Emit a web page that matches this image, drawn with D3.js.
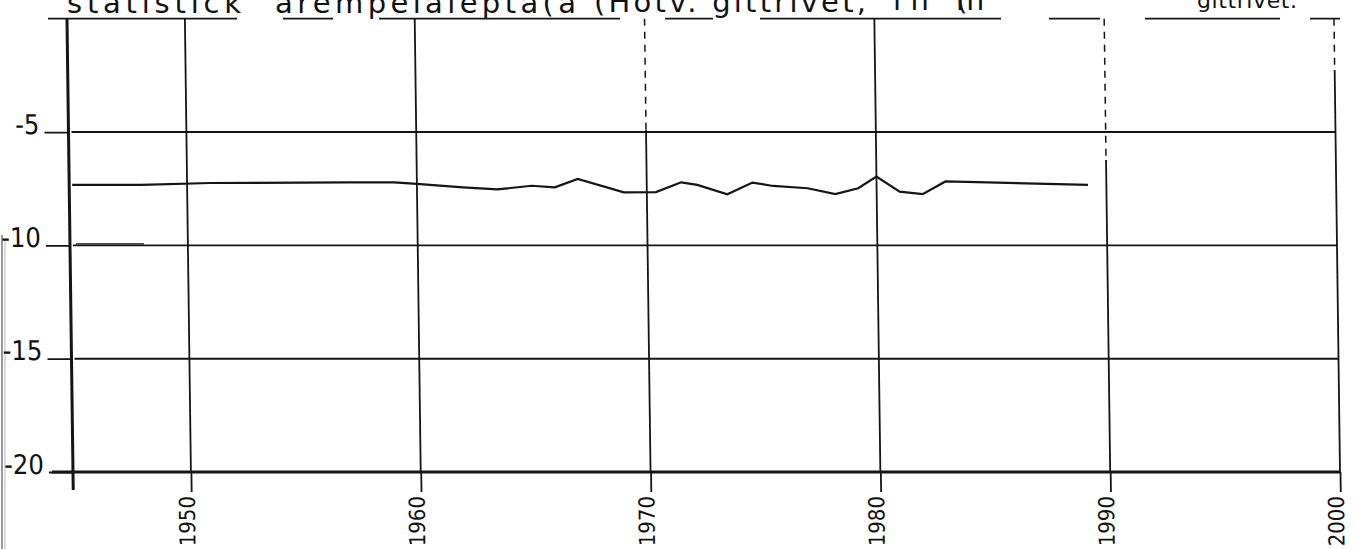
<!DOCTYPE html>
<html><head><meta charset="utf-8">
<script src="https://cdn.jsdelivr.net/npm/d3@7/dist/d3.min.js"></script>
<style>
html,body{margin:0;padding:0;background:#fff;}
svg{display:block;}
.num{font-family:"DejaVu Sans Condensed","Liberation Sans Narrow",sans-serif;fill:#111;}
.ttl{font-family:"DejaVu Sans","Open Sans",sans-serif;fill:#111;}
</style></head>
<body>
<svg id="c" width="1356" height="549"></svg>
<script>
// ---- data ----
const years  = [1945, 1948, 1951, 1957, 1959, 1960, 1962, 1963.5, 1965, 1966, 1967, 1969, 1970.4, 1971.5, 1972.2, 1973.5, 1974.6, 1975.5, 1977, 1978.2, 1979.2, 1980, 1981, 1982, 1983, 1989.2];
const values = [-7.33, -7.33, -7.25, -7.22, -7.22, -7.29, -7.44, -7.53, -7.37, -7.44, -7.07, -7.66, -7.65, -7.22, -7.33, -7.75, -7.23, -7.38, -7.48, -7.74, -7.48, -6.97, -7.63, -7.74, -7.18, -7.33];
const xTicks = [1950, 1960, 1970, 1980, 1990, 2000];
const yTicks = [-5, -10, -15, -20];
const titleParts = ["statistick", "ärempelalepta(a", "(Hotv. gittrivet,", "in", "(m", "gittrivet."];

// ---- layout ----
const svg = d3.select("#c");
const L = 76, R = 1340, T = 18.7, B = 472;
const x = d3.scaleLinear().domain([1945, 2000]).range([L, R]);
const y = d3.scaleLinear().domain([-20, 0]).range([B, T]);
const ink = "#151515";

// scan edge
svg.append("line").attr("x1",2).attr("x2",2).attr("y1",235).attr("y2",549)
  .attr("stroke","#777").attr("stroke-width",1.5);
svg.append("line").attr("x1",5).attr("x2",5).attr("y1",240).attr("y2",549)
  .attr("stroke","#bbb").attr("stroke-width",1);

// title (cut off at top)
const titleX = [67, 275, 594, 893, 956, 1197];
const titleW = [174, 301, 272, 36, 28, 100];
const titleY = [13, 13, 12, 10, 10, 8];
const titleF = [29, 29, 29, 29, 29, 22];
svg.append("g").selectAll("text").data(titleParts).join("text")
  .attr("class","ttl")
  .attr("x",(d,i)=>titleX[i]).attr("y",(d,i)=>titleY[i])
  .attr("font-size",(d,i)=>titleF[i])
  .attr("textLength",(d,i)=>titleW[i]).attr("lengthAdjust","spacing")
  .text(d=>d);

const g = svg.append("g").attr("transform",`translate(0,${B}) skewX(0.76) translate(0,${-B})`);

// top broken border / underline
const topSegs = [[48,237],[283,333],[379,620],[665,713],[760,1001],[1049,1100],[1145,1280],[1310,1340]];
g.append("g").selectAll("line").data(topSegs).join("line")
  .attr("x1",d=>d[0]+6).attr("x2",d=>d[1]+6).attr("y1",T).attr("y2",T)
  .attr("stroke",ink).attr("stroke-width",1.7);

// horizontal gridlines
g.append("g").selectAll("line").data(yTicks.filter(v=>v!==-20)).join("line")
  .attr("x1",L).attr("x2",R).attr("y1",d=>y(d)).attr("y2",d=>y(d))
  .attr("stroke",ink).attr("stroke-width",1.9);
// small extra stroke near -10
g.append("line").attr("x1",L+3).attr("x2",147).attr("y1",y(-10)-1.5).attr("y2",y(-10)-1.5)
  .attr("stroke",ink).attr("stroke-width",1.4);

// vertical gridlines (upper part dashed for some)
const dashTop = {1970:130, 1990:160, 2000:70};
xTicks.forEach(t=>{
  const xx = x(t);
  const split = dashTop[t] ? dashTop[t] : T;
  if (dashTop[t]) {
    g.append("line").attr("x1",xx).attr("x2",xx).attr("y1",T).attr("y2",split)
      .attr("stroke",ink).attr("stroke-width",1.5).attr("stroke-dasharray","7,6");
  }
  g.append("line").attr("x1",xx).attr("x2",xx).attr("y1",split).attr("y2",B)
    .attr("stroke",ink).attr("stroke-width",1.8);
});

// x axis
const xAxis = d3.axisBottom(x).tickValues(xTicks).tickSize(20).tickFormat(d=>String(d));
const xa = g.append("g").attr("transform",`translate(0,${B})`).call(xAxis);
xa.select(".domain").attr("stroke",ink).attr("stroke-width",3).attr("d",`M${L-24},0H${R}`);
xa.selectAll(".tick line").attr("stroke",ink).attr("stroke-width",1.8);
xa.selectAll(".tick text").attr("class","num")
  .attr("font-size",22).attr("text-anchor","end")
  .attr("transform","translate(3,24) rotate(-90)")
  .attr("x",0).attr("y",0).attr("dy",0);

// y axis
const yAxis = d3.axisLeft(y).tickValues(yTicks).tickSize(24).tickPadding(5).tickFormat(d=>String(d));
const ya = g.append("g").attr("transform",`translate(${L-3},0)`).call(yAxis);
ya.select(".domain").attr("stroke",ink).attr("stroke-width",3).attr("d",`M0,${T}V${B+18}`);
ya.selectAll(".tick line").attr("stroke",ink).attr("stroke-width",1.8);
ya.selectAll(".tick text").attr("class","num").attr("font-size",27).attr("dy",1);

// data line
const line = d3.line().x((d,i)=>x(years[i])).y(d=>y(d));
g.append("path").datum(values).attr("d",line)
  .attr("fill","none").attr("stroke",ink).attr("stroke-width",2.2).attr("stroke-linejoin","miter");
</script>
</body></html>
